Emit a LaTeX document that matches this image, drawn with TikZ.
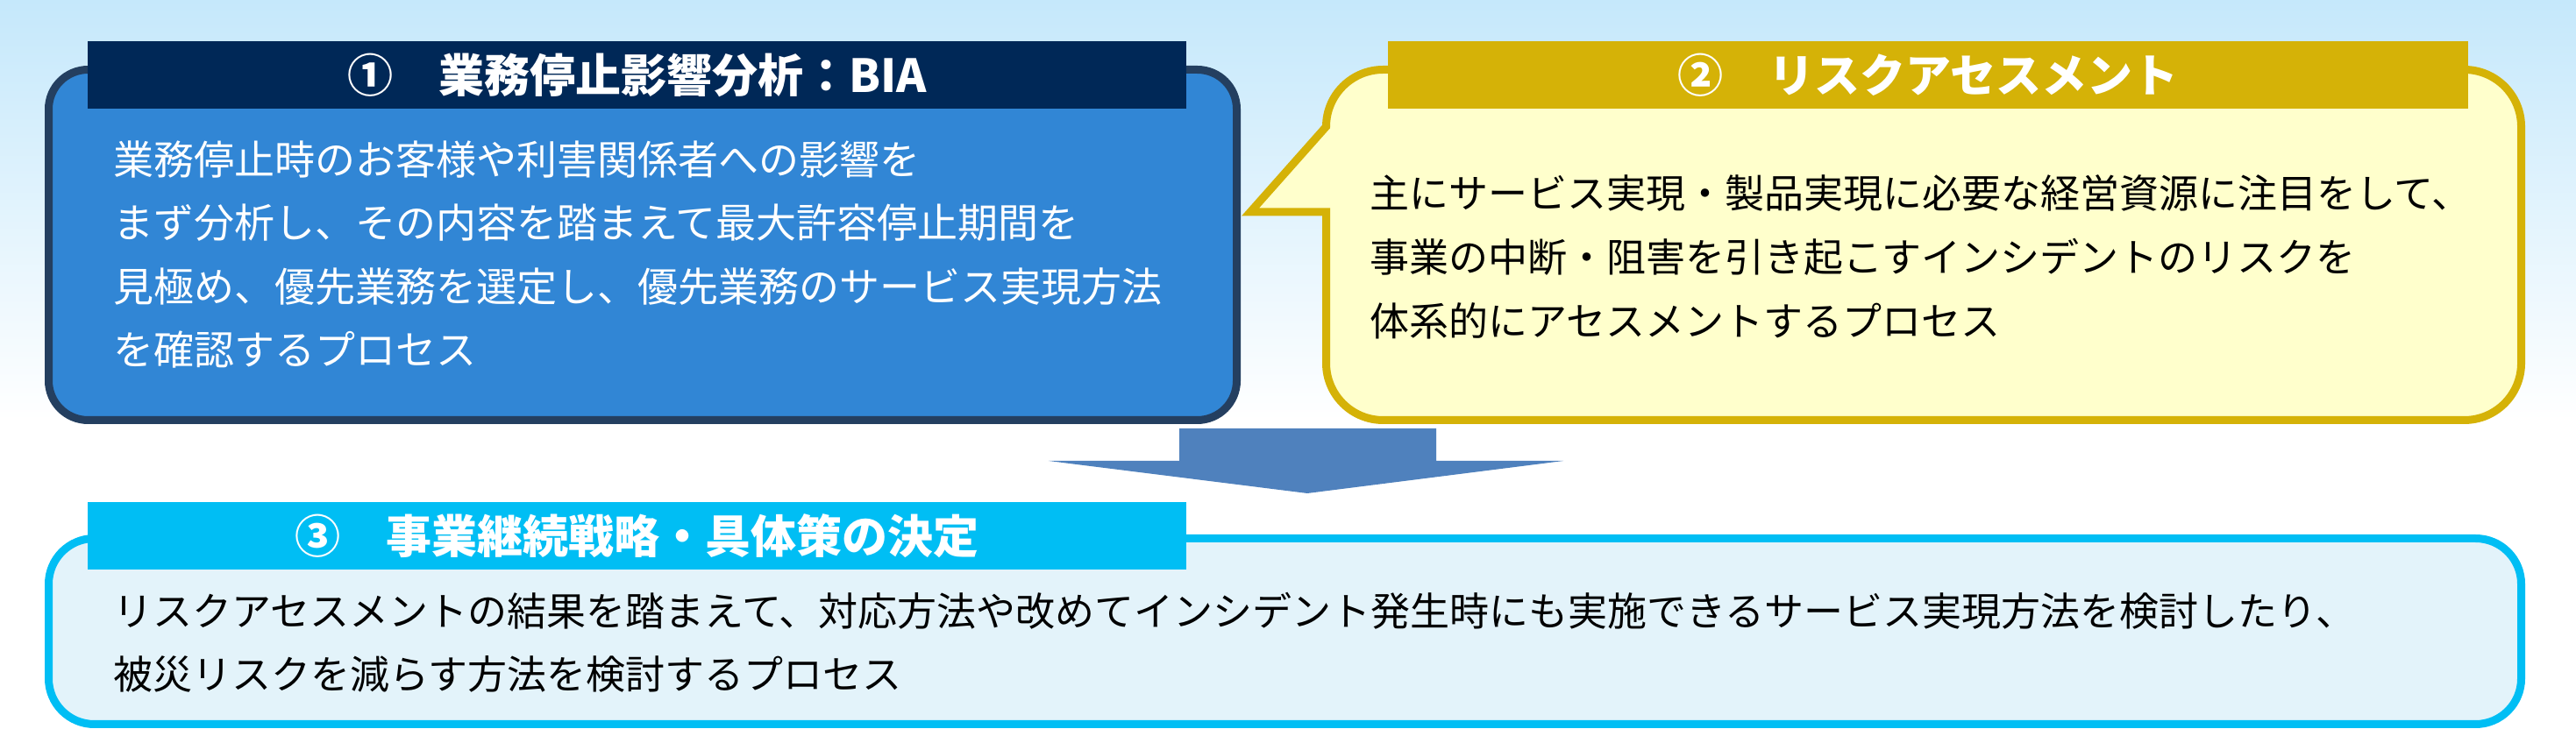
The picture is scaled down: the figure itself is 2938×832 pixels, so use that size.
\documentclass[tikz,border=0pt]{standalone}
\usepackage{fontspec}
\setmainfont{Noto Sans CJK JP}
\usetikzlibrary{positioning}
\definecolor{navyline}{HTML}{243F60}
\definecolor{navyhead}{HTML}{002857}
\definecolor{bluefill}{HTML}{3186D5}
\definecolor{goldline}{HTML}{D5B207}
\definecolor{creamfill}{HTML}{FFFFCC}
\definecolor{cyanline}{HTML}{00BEF4}
\definecolor{icefill}{HTML}{E3F3FA}
\definecolor{skytop}{HTML}{C5E8FB}
\definecolor{arrowblue}{HTML}{4F81BD}

\begin{document}
\begin{tikzpicture}
            [x=1pt, y=1pt,
             panel/.style={rounded corners=#1, line width=9pt, inner sep=0pt},
             head/.style={minimum height=77pt, inner sep=0pt, text=white,
                          font=\fontsize{52}{60}\selectfont\bfseries},
             body/.style={anchor=west, align=left, inner sep=0pt}]

            \useasboundingbox (0,0) rectangle (2938,832);
            \shade[top color=skytop, bottom color=white] (0,352) rectangle (2938,832);

            \node[panel=45, draw=navyline, fill=bluefill, minimum width=1355pt, minimum height=400pt] (biaBox) at (733,552.5) {};
            \filldraw[line width=9pt, draw=goldline, fill=creamfill]
                (1512.5,590) -- (1426,590) -- (1512.5,687.5)
                arc[start angle=180, end angle=90, radius=65] -- (2810.5,752.5)
                arc[start angle=90, end angle=0, radius=65] -- (2875.5,417.5)
                arc[start angle=0, end angle=-90, radius=65] -- (1577.5,352.5)
                arc[start angle=270, end angle=180, radius=65] -- cycle;
            \node[panel=52, draw=cyanline, fill=icefill, minimum width=2820pt, minimum height=212pt] (planBox) at (1465.5,111.5) {};

            \node[head, fill=navyhead, minimum width=1253pt] (biaHead) at (726.5,746.5) {①　業務停止影響分析：BIA};
            \node[head, fill=goldline, minimum width=1232pt] (riskHead) at (2199,746.5) {②　リスクアセスメント};
            \node[head, fill=cyanline, minimum width=1253pt] (planHead) at (726.5,220) {③　事業継続戦略・具体策の決定};

            \node[body, text=white, font=\fontsize{46}{72.5}\selectfont] (biaText) at (129,541.5)
                {業務停止時のお客様や利害関係者への影響を\\まず分析し、その内容を踏まえて最大許容停止期間を\\見極め、優先業務を選定し、優先業務のサービス実現方法\\を確認するプロセス};
            \node[body, font=\fontsize{45}{73}\selectfont] (riskText) at (1562,539)
                {主にサービス実現・製品実現に必要な経営資源に注目をして、\\事業の中断・阻害を引き起こすインシデントのリスクを\\体系的にアセスメントするプロセス};
            \node[body, font=\fontsize{45}{72}\selectfont] (planText) at (129,99)
                {リスクアセスメントの結果を踏まえて、対応方法や改めてインシデント発生時にも実施できるサービス実現方法を検討したり、\\被災リスクを減らす方法を検討するプロセス};

            \fill[arrowblue] (1345,343) -- (1638,343) -- (1638,306) -- (1783,306) -- (1491,269) -- (1196,306) -- (1345,306) -- cycle;
        \end{tikzpicture}
\end{document}
